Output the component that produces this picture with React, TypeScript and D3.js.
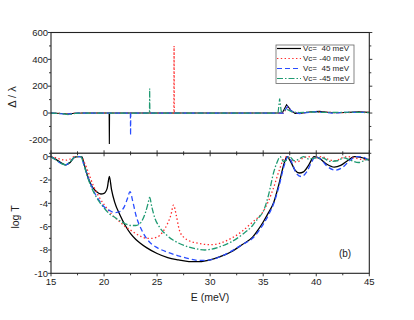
import * as d3 from "d3";

const E_DOMAIN: [number, number] = [15, 45];
const X_TICKS = [15, 20, 25, 30, 35, 40, 45];
const TOP_TICKS = [-200, 0, 200, 400, 600];
const BOTTOM_TICKS = [-10, -8, -6, -4, -2, 0];

const seriesNames = ["Vc=  40 meV", "Vc= -40 meV", "Vc=  45 meV", "Vc= -45 meV"];
const seriesColors = ["#000000", "#ff2a2a", "#2a4dff", "#1f9a72"];
const seriesDash = ["", "1.4,2.4", "5,3", "6,2,1.5,2"];

// Δ/λ (top panel), [E, value]
const deltaBlack: [number, number][] = [
  [15, 0], [16, -3], [16.6, -8], [17.2, -2], [18, 0], [20.48, 0], [20.5, -230], [20.52, 0],
  [36.8, 0], [37.2, 62], [37.6, 22], [38, -3], [38.6, -2], [39.5, 10], [40.3, 12], [41.5, 2],
  [43, 5], [44, 10], [45, 5],
];
const deltaRed: [number, number][] = [
  [15, 0], [16.5, -5], [17.5, 0], [26.58, 0], [26.6, 500], [26.62, 0],
  [36.9, 0], [37.3, 45], [37.7, 10], [38.3, 0], [40, 8], [42, 3], [45, 5],
];
const deltaBlue: [number, number][] = [
  [15, 0], [16.5, -8], [17.5, 0], [22.48, 0], [22.5, -167], [22.52, 0],
  [36.9, 0], [37.3, 50], [37.7, 12], [38.4, -4], [39.8, 10], [41.5, 0], [43, 6], [45, 4],
];
const deltaGreen: [number, number][] = [
  [15, 0], [16, -4], [16.7, -12], [17.3, -3], [18, 0], [24.28, 0], [24.3, 183], [24.32, 0],
  [36.4, 0], [36.55, 108], [36.7, 10], [37.2, 30], [37.7, 8], [38.4, 4], [39.5, 8],
  [41, 4], [43, 6], [45, 3],
];

// log T (bottom panel), [E, value]
const logTBlack: [number, number][] = [
  [15, 0], [15.5, -0.25], [16, -0.55], [16.4, -0.7], [16.8, -0.5], [17.2, -0.05], [17.5, 0], [17.9, 0],
  [18.2, -0.9], [18.5, -1.8], [18.9, -2.6], [19.3, -3.0], [19.7, -3.2], [20.0, -3.15], [20.3, -2.7],
  [20.5, -1.7], [20.7, -2.8], [21.0, -3.9], [21.5, -5.0], [22.0, -5.9], [22.5, -6.6], [23.0, -7.1],
  [24.0, -7.8], [25.0, -8.3], [26.0, -8.65], [27.0, -8.85], [28.0, -9.0], [29.0, -9.0], [30.0, -8.85],
  [31.0, -8.55], [32.0, -8.15], [33.0, -7.55], [34.0, -6.9], [34.5, -6.3], [35.0, -5.6], [35.5, -4.8],
  [36.0, -3.9], [36.5, -2.3], [37.0, -0.5], [37.25, 0], [37.6, -0.45], [38.0, -1.15], [38.4, -1.4],
  [38.8, -1.3], [39.3, -0.7], [39.8, 0], [40.3, -0.15], [41.0, -0.65], [41.7, -0.9], [42.3, -0.75],
  [43.0, -0.3], [43.6, 0], [44.2, -0.05], [45, -0.3],
];
const logTRed: [number, number][] = [
  [15, 0], [15.5, -0.1], [16, -0.25], [16.4, -0.3], [16.8, -0.2], [17.2, 0], [17.8, 0], [18.2, -0.6],
  [18.5, -1.3], [19.0, -2.5], [19.5, -3.4], [20.0, -4.1], [20.5, -4.7], [21.0, -5.2], [21.5, -5.6],
  [22.0, -6.0], [22.5, -6.3], [23.0, -6.6], [23.5, -6.85], [24.0, -7.0], [24.5, -7.0], [25.0, -6.9],
  [25.5, -6.5], [26.0, -5.7], [26.3, -5.0], [26.55, -4.15], [26.8, -5.0], [27.1, -6.3], [27.5, -6.9],
  [28.0, -7.2], [29.0, -7.45], [30.0, -7.55], [31.0, -7.4], [32.0, -7.0], [33.0, -6.4], [34.0, -5.6],
  [35.0, -4.7], [35.5, -3.8], [36.0, -2.6], [36.5, -1.2], [37.0, -0.1], [37.3, 0], [37.7, -0.3],
  [38.2, -0.45], [38.7, -0.15], [39.2, 0], [39.8, -0.1], [40.5, 0], [41.2, -0.25], [41.8, -0.35],
  [42.4, -0.1], [43.0, 0], [43.8, -0.15], [44.5, -0.25], [45, -0.2],
];
const logTBlue: [number, number][] = [
  [15, 0], [15.5, -0.3], [16, -0.6], [16.4, -0.7], [16.8, -0.45], [17.2, -0.05], [17.5, 0], [17.8, 0],
  [18.1, -0.7], [18.5, -1.8], [19.0, -2.9], [19.5, -3.7], [20.0, -4.3], [20.5, -4.6], [21.0, -4.8],
  [21.5, -4.7], [21.9, -4.3], [22.2, -3.6], [22.45, -3.0], [22.7, -3.8], [23.0, -5.0], [23.5, -6.2],
  [24.0, -7.0], [24.5, -7.5], [25.0, -7.8], [26.0, -8.2], [27.0, -8.5], [28.0, -8.75], [29.0, -8.9],
  [30.0, -8.85], [31.0, -8.55], [32.0, -8.1], [33.0, -7.55], [34.0, -7.0], [35.0, -5.8], [35.5, -5.0],
  [36.0, -4.0], [36.5, -2.5], [37.0, -0.7], [37.35, 0], [37.7, -0.5], [38.1, -1.4], [38.6, -1.7],
  [39.1, -1.3], [39.6, -0.4], [39.9, 0], [40.4, -0.2], [41.0, -0.8], [41.8, -1.15], [42.5, -0.9],
  [43.2, -0.3], [43.8, 0], [44.4, -0.05], [45, -0.35],
];
const logTGreen: [number, number][] = [
  [15, 0], [15.5, -0.3], [16, -0.6], [16.4, -0.7], [16.8, -0.45], [17.2, -0.05], [17.5, 0], [17.8, 0],
  [18.1, -0.7], [18.5, -1.9], [19.0, -3.0], [19.5, -3.8], [20.0, -4.4], [20.5, -4.9], [21.0, -5.2],
  [21.5, -5.5], [22.0, -5.75], [22.5, -5.9], [23.0, -5.9], [23.5, -5.6], [23.9, -4.8], [24.15, -4.0],
  [24.3, -3.5], [24.5, -4.3], [24.8, -5.3], [25.2, -6.0], [26.0, -6.8], [26.5, -7.15], [27.0, -7.4],
  [28.0, -7.75], [29.0, -7.95], [29.5, -8.0], [30.0, -7.95], [31.0, -7.7], [32.0, -7.3], [33.0, -6.7],
  [34.0, -5.9], [34.5, -5.3], [35.0, -4.7], [35.5, -3.3], [36.0, -1.3], [36.3, -0.5], [36.6, 0],
  [36.9, -0.4], [37.2, -0.3], [37.5, 0], [37.9, -0.35], [38.3, -0.25], [38.8, 0], [39.3, -0.2],
  [40.0, -0.1], [40.6, -0.1], [41.3, -0.4], [42.0, -0.35], [42.6, -0.1], [43.2, -0.3], [44.0, -0.5],
  [44.6, -0.3], [45, -0.2],
];

const deltaSeries = [deltaBlack, deltaRed, deltaBlue, deltaGreen];
const logTSeries = [logTBlack, logTRed, logTBlue, logTGreen];

const LEFT = 51;
const RIGHT = 369.3;
const TOP = 32.5;
const MID = 153.3;
const BOTTOM = 273.3;
const FONT = "'Liberation Sans', Arial, sans-serif";

export default function App() {
  const x = d3.scaleLinear().domain(E_DOMAIN).range([LEFT, RIGHT]);
  const yTop = d3.scaleLinear().domain([-300, 600]).range([MID, TOP]);
  const yBot = d3.scaleLinear().domain([-10, 0.29]).range([BOTTOM, MID]);

  const lineTop = d3.line<[number, number]>().x((d) => x(d[0])).y((d) => yTop(d[1]));
  const lineBot = d3
    .line<[number, number]>()
    .x((d) => x(d[0]))
    .y((d) => yBot(d[1]))
    .curve(d3.curveMonotoneX);

  const xMinor = d3.range(15, 45.01, 2.5);
  const topMinor = d3.range(-300, 601, 100);
  const botMinor = d3.range(-10, 0.01, 1);

  return (
    <svg width={414} height={320} style={{ position: "absolute", left: 0, top: 0 }} fontFamily={FONT}>
      <rect width={414} height={320} fill="white" />

      {/* curves */}
      {deltaSeries.map((s, i) => (
        <path key={"d" + i} d={lineTop(s) ?? ""} fill="none" stroke={seriesColors[i]}
          strokeWidth={i === 0 ? 1.1 : 1.2} strokeDasharray={seriesDash[i]} />
      ))}
      {logTSeries.map((s, i) => (
        <path key={"t" + i} d={lineBot(s) ?? ""} fill="none" stroke={seriesColors[i]}
          strokeWidth={i === 0 ? 1.3 : 1.3} strokeDasharray={seriesDash[i]} />
      ))}

      {/* frames */}
      <rect x={LEFT} y={TOP} width={RIGHT - LEFT} height={BOTTOM - TOP} fill="none" stroke="#222" strokeWidth={1.1} />
      <line x1={LEFT} x2={RIGHT} y1={MID} y2={MID} stroke="#444" strokeWidth={1.6} />

      {/* x ticks */}
      {xMinor.map((v) => {
        const major = v % 5 === 0;
        const l = major ? 3 : 2;
        return (
          <g key={"x" + v} stroke="#222" strokeWidth={0.9}>
            <line x1={x(v)} x2={x(v)} y1={BOTTOM} y2={BOTTOM + l} />
            <line x1={x(v)} x2={x(v)} y1={MID - l} y2={MID + l} />
          </g>
        );
      })}
      {X_TICKS.map((v) => (
        <text key={"xl" + v} x={x(v)} y={284.5} fontSize={9.5} textAnchor="middle" fill="#222">{v}</text>
      ))}

      {/* top y ticks */}
      {topMinor.map((v) => {
        const major = v % 200 === 0;
        const l = major ? 3 : 2;
        return (
          <g key={"yt" + v} stroke="#222" strokeWidth={0.9}>
            <line x1={LEFT - l} x2={LEFT} y1={yTop(v)} y2={yTop(v)} />
            <line x1={RIGHT} x2={RIGHT + l} y1={yTop(v)} y2={yTop(v)} />
          </g>
        );
      })}
      {TOP_TICKS.map((v) => (
        <text key={"ytl" + v} x={48} y={yTop(v) + 3.3} fontSize={9.5} textAnchor="end" fill="#222">{v}</text>
      ))}

      {/* bottom y ticks */}
      {botMinor.map((v) => {
        const major = v % 2 === 0;
        const l = major ? 3 : 2;
        return (
          <line key={"yb" + v} x1={LEFT - l} x2={LEFT} y1={yBot(v)} y2={yBot(v)} stroke="#222" strokeWidth={0.9} />
        );
      })}
      {BOTTOM_TICKS.map((v) => (
        <text key={"ybl" + v} x={48} y={yBot(v) + 3.3} fontSize={9.5} textAnchor="end" fill="#222">{v}</text>
      ))}

      {/* axis titles */}
      <text transform="translate(16,97) rotate(-90)" fontSize={11} textAnchor="middle" fill="#222">Δ / λ</text>
      <text transform="translate(18.5,217) rotate(-90)" fontSize={10.5} textAnchor="middle" fill="#222">log T</text>
      <text x={210} y={300.5} fontSize={10.5} textAnchor="middle" fill="#222">E (meV)</text>
      <text x={345} y={256.5} fontSize={10} textAnchor="middle" fill="#222">(b)</text>

      {/* legend */}
      <rect x={276} y={45} width={78} height={38.5} fill="white" stroke="#666" strokeWidth={0.8} />
      {seriesNames.map((n, i) => {
        const yy = 48.5 + i * 10;
        return (
          <g key={"lg" + i}>
            <line x1={277} x2={301} y1={yy} y2={yy} stroke={seriesColors[i]} strokeWidth={1.2}
              strokeDasharray={seriesDash[i]} />
            <text x={303} y={yy + 2.8} fontSize={8} fill="#222" style={{ whiteSpace: "pre" }}>{n}</text>
          </g>
        );
      })}
    </svg>
  );
}
